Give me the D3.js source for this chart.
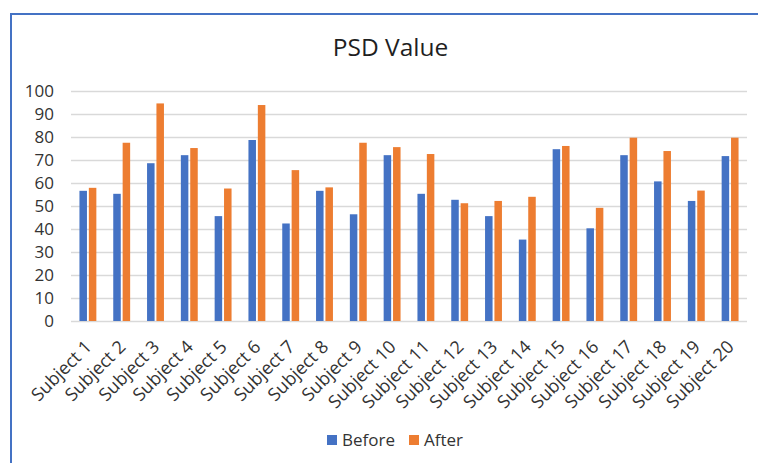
<!DOCTYPE html>
<html>
<head>
<meta charset="utf-8">
<script src="https://cdn.jsdelivr.net/npm/d3@7"></script>
<style>
  html, body { margin: 0; padding: 0; background: #fff; }
  svg { display: block; }
  text { font-family: "Open Sans", "Noto Sans", sans-serif; }
</style>
</head>
<body>
<svg id="chart" width="758" height="463"></svg>
<script>
const categories = ["Subject 1","Subject 2","Subject 3","Subject 4","Subject 5","Subject 6","Subject 7","Subject 8","Subject 9","Subject 10",
  "Subject 11","Subject 12","Subject 13","Subject 14","Subject 15","Subject 16","Subject 17","Subject 18","Subject 19","Subject 20"];
const seriesNames = ["Before", "After"];
const before = [56.6, 55.3, 68.6, 72.1, 45.6, 78.7, 42.4, 56.6, 46.4, 72.1, 55.3, 52.7, 45.6, 35.4, 74.7, 40.3, 72.1, 60.7, 52.2, 71.7];
const after  = [57.9, 77.5, 94.6, 75.2, 57.6, 93.9, 65.6, 58.1, 77.5, 75.6, 72.6, 51.2, 52.2, 54.0, 76.1, 49.2, 79.7, 73.9, 56.7, 79.7];
const yTicks = [0, 10, 20, 30, 40, 50, 60, 70, 80, 90, 100];
const colors = ["#4472C4", "#ED7D31"];
const title = "PSD Value";

const svg = d3.select("#chart");

// outer border
svg.append("rect")
  .attr("x", 11).attr("y", 14)
  .attr("width", 800).attr("height", 500)
  .attr("fill", "none").attr("stroke", "#4472C4").attr("stroke-width", 2);

const plot = { left: 71, right: 747, top: 91, bottom: 321 };

const x0 = d3.scaleBand().domain(categories)
  .range([plot.left, plot.right]).paddingInner(0.5).paddingOuter(0.25);
const x1 = d3.scaleBand().domain(seriesNames)
  .range([0, x0.bandwidth()]).paddingInner(0.2);
const y = d3.scaleLinear().domain([0, 100]).range([plot.bottom, plot.top]);

// title
svg.append("text")
  .attr("x", 390.5).attr("y", 56)
  .attr("text-anchor", "middle")
  .attr("font-size", 24.5)
  .attr("fill", "#1f1f1f")
  .text(title);

// gridlines
svg.append("g").selectAll("line").data(yTicks).join("line")
  .attr("x1", plot.left).attr("x2", plot.right)
  .attr("y1", d => Math.round(y(d)) + 0.5).attr("y2", d => Math.round(y(d)) + 0.5)
  .attr("stroke", "#d9d9d9").attr("stroke-width", 1.3);

// y axis labels
const yAxis = d3.axisLeft(y).tickValues(yTicks).tickSize(0).tickPadding(0);
const yg = svg.append("g").attr("transform", `translate(54,0)`).call(yAxis);
yg.select(".domain").remove();
yg.selectAll("text").attr("font-size", 17).attr("fill", "#333")
  .attr("font-family", "'Open Sans', sans-serif");

// bars
const rows = categories.map((c, i) => ({ cat: c, vals: [before[i], after[i]] }));
const groups = svg.append("g").selectAll("g").data(rows).join("g")
  .attr("transform", d => `translate(${x0(d.cat)},0)`);
groups.selectAll("rect")
  .data(d => d.vals.map((v, j) => ({ key: seriesNames[j], v, j })))
  .join("rect")
  .attr("x", d => x1(d.key))
  .attr("width", x1.bandwidth())
  .attr("y", d => y(d.v))
  .attr("height", d => y(0) - y(d.v))
  .attr("fill", d => colors[d.j]);

// x labels
const xAxis = d3.axisBottom(x0).tickSize(0).tickPadding(0);
const xg = svg.append("g").attr("transform", `translate(0,${plot.bottom})`).call(xAxis);
xg.select(".domain").remove();
xg.selectAll(".tick text")
  .attr("font-size", 18).attr("fill", "#333")
  .attr("font-family", "'Open Sans', sans-serif")
  .attr("text-anchor", "end")
  .attr("dy", null).attr("y", null)
  .attr("transform", "translate(5,27) rotate(-45)");

// legend
const legend = svg.append("g");
const legendX = [327, 409];
seriesNames.forEach((s, i) => {
  legend.append("rect").attr("x", legendX[i]).attr("y", 435)
    .attr("width", 10).attr("height", 10).attr("fill", colors[i]);
  legend.append("text").attr("x", legendX[i] + 15).attr("y", 446)
    .attr("font-size", 17).attr("fill", "#333").text(s);
});
</script>
</body>
</html>
